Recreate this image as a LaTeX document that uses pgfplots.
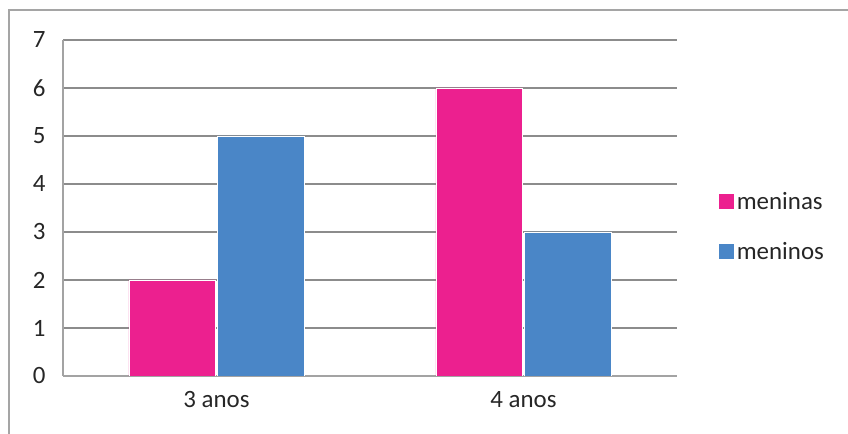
\documentclass[border=0pt]{standalone}
\usepackage{fontspec}
\setmainfont{Carlito}
\usepackage{pgfplots}
\pgfplotsset{compat=1.18}
\definecolor{pinkbar}{RGB}{236,32,143}
\definecolor{bluebar}{RGB}{74,134,199}
\definecolor{gridgray}{RGB}{140,140,140}
\definecolor{framegray}{RGB}{165,165,165}
\begin{document}
\begin{tikzpicture}[x=1bp,y=1bp]
\useasboundingbox (0,0) rectangle (848,434);
\draw[framegray, line width=2bp] (8.5,0) -- (8.5,423.5) -- (848,423.5);
\begin{axis}[
  at={(63bp,58bp)}, anchor=south west,
  scale only axis, width=614bp, height=336bp,
  xmin=-0.5, xmax=1.5, ymin=0, ymax=7,
  xtick={0,1}, xticklabels={3 anos,4 anos},
  ytick={0,1,...,7},
  axis x line*=bottom, axis y line*=left,
  axis line style={draw=gridgray!80, line width=1.5bp, -},
  major tick length=0pt,
  ymajorgrids, grid style={draw=gridgray, line width=1.5bp},
  /pgf/number format/assume math mode=true,
  tick label style={font=\fontsize{25}{30}\selectfont, text=black!85},
  yticklabel style={xshift=-14bp},
  xticklabel style={yshift=-12bp},
  ybar, bar width=0.282,
  legend style={at={(1.067,0.445)}, anchor=west, draw=none, fill=none,
    font=\fontsize{25}{30}\selectfont, text=black!85,
    row sep=27bp, inner sep=0pt, cells={anchor=west}},
  legend image code/.code={\fill[#1] (0bp,-8bp) rectangle (16bp,8bp);},
  legend cell align=left,
  every legend entry/.append style={xshift=4bp},
]
\addplot[fill=pinkbar, draw=white, line width=0.5bp, bar shift=-0.1445] coordinates {(0,2) (1,6)};
\addplot[fill=bluebar, draw=white, line width=0.5bp, bar shift=0.1445] coordinates {(0,5) (1,3)};
\legend{meninas,meninos}
\end{axis}
\end{tikzpicture}
\end{document}
